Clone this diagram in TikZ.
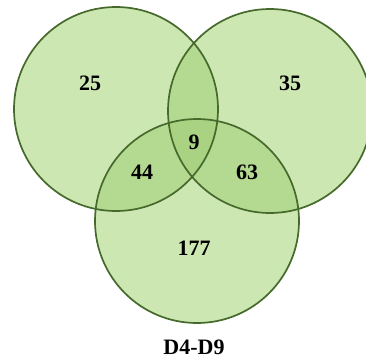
\documentclass[tikz,border=0pt]{standalone}
\usepackage{fontspec}
\setmainfont{Liberation Serif}
\definecolor{oneset}{HTML}{CDE7B3}
\definecolor{twoset}{HTML}{B4D991}
\definecolor{threeset}{HTML}{AAD283}
\definecolor{rim}{HTML}{466A2B}
\tikzset{
  ring/.style={draw=rim, line width=1.7pt},
  num/.style={font=\bfseries\fontsize{22}{26}\selectfont, text=black, inner sep=0pt}
}
\begin{document}
\begin{tikzpicture}[x=1pt,y=-1pt]
\useasboundingbox (0,0) rectangle (366,361);
\fill[white] (0,0) rectangle (366,361);
\coordinate (L) at (116,109);
\coordinate (R) at (270,111);
\coordinate (B) at (197,221);
\def\rad{102}
% single fills
\fill[oneset] (L) circle (\rad);
\fill[oneset] (R) circle (\rad);
\fill[oneset] (B) circle (\rad);
% double overlaps
\begin{scope}
  \clip (L) circle (\rad);
  \fill[twoset] (R) circle (\rad);
  \fill[twoset] (B) circle (\rad);
\end{scope}
\begin{scope}
  \clip (R) circle (\rad);
  \fill[twoset] (B) circle (\rad);
\end{scope}
% triple
\begin{scope}
  \clip (L) circle (\rad);
  \clip (R) circle (\rad);
  \fill[threeset] (B) circle (\rad);
\end{scope}
% outlines
\draw[ring] (L) circle (\rad);
\draw[ring] (R) circle (\rad);
\draw[ring] (B) circle (\rad);
% labels
\node[num] (n25) at (90,83) {25};
\node[num] (n35) at (290,83) {35};
\node[num] (n9) at (194,142) {9};
\node[num] (n44) at (142,172) {44};
\node[num] (n63) at (247,172) {63};
\node[num] (n177) at (194,248) {177};
\node[num] (title) at (194,347) {D4-D9};
\end{tikzpicture}
\end{document}
